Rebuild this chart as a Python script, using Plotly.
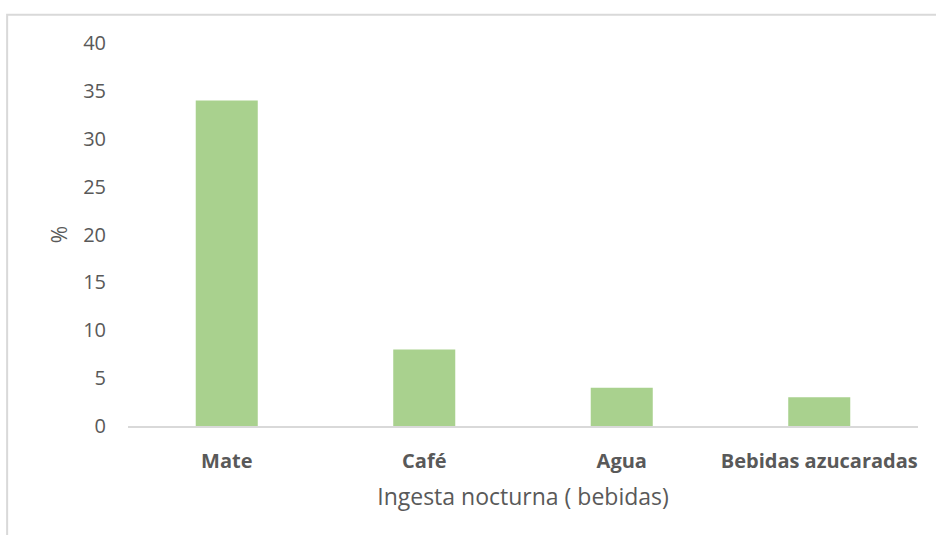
import plotly.graph_objects as go

categories = ["Mate", "Café", "Agua", "Bebidas azucaradas"]
values = [34, 8, 4, 3]
y_ticks = [0, 5, 10, 15, 20, 25, 30, 35, 40]

fig = go.Figure(
    go.Bar(
        x=categories,
        y=values,
        marker=dict(color="#a9d18e", line=dict(width=0)),
        width=0.314,
    )
)

fig.update_layout(
    width=936,
    height=535,
    margin=dict(l=128, r=18, t=43, b=109),
    paper_bgcolor="white",
    plot_bgcolor="white",
    showlegend=False,
    font=dict(family="Open Sans", color="#595959"),
    shapes=[
        dict(
            type="rect", xref="paper", yref="paper",
            x0=-0.1530, x1=1.2, y0=1.074, y1=-0.5,
            line=dict(color="#d9d9d9", width=2),
            fillcolor="rgba(0,0,0,0)", layer="below",
        )
    ],
)

fig.update_xaxes(
    showline=True, linecolor="#d9d9d9", linewidth=1.5,
    showgrid=False, ticks="",
    tickfont=dict(size=20, color="#595959", family="Open Sans", weight="bold"),
    ticklabelstandoff=16,
    title=dict(text="Ingesta nocturna ( bebidas)", font=dict(size=23, color="#595959"), standoff=16),
)

fig.update_yaxes(
    range=[0, 40], tickvals=y_ticks, showgrid=False, zeroline=False,
    showline=False, ticks="",
    tickfont=dict(size=20, color="#595959"),
    ticklabelstandoff=21,
    title=dict(text="%", font=dict(size=21, color="#595959"), standoff=9),
)

fig.write_html(
    "out.html",
    config={"displayModeBar": False},
    post_script="document.body.style.margin='0';",
)
